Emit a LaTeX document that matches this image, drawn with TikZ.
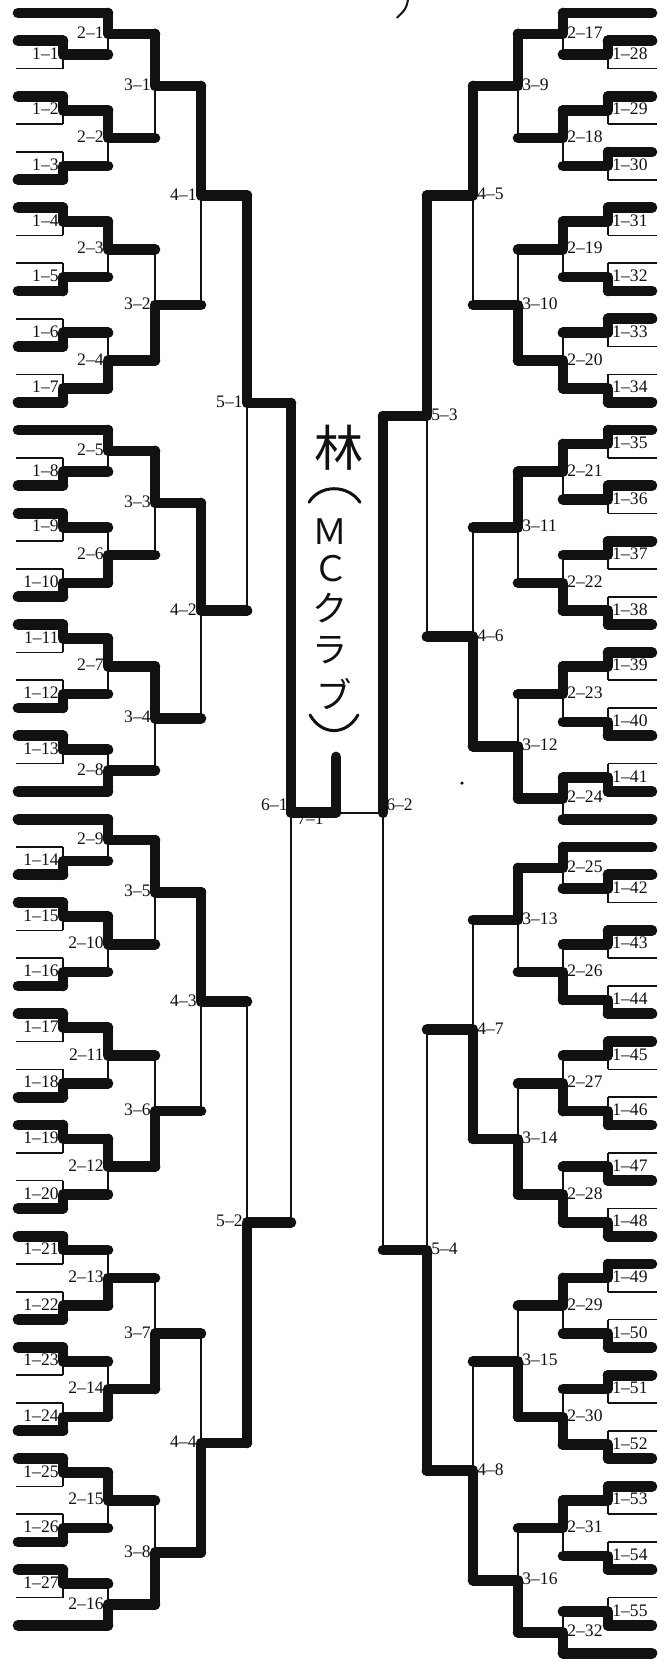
\documentclass[tikz,border=0pt]{standalone}
\usepackage{fontspec}
\setmainfont{Liberation Serif}
\newfontfamily\jpfont{Noto Sans CJK JP}
\usetikzlibrary{positioning}
\definecolor{ink}{HTML}{111111}

\tikzset{
  thinline/.style={ink, line width=0.5mm},
  winline/.style={ink, line width=3.2mm, line cap=round, line join=round},
  penline/.style={ink, line width=0.9mm, line cap=round},
  lbl/.style={font=\fontsize{15}{15}\selectfont, text=ink, inner sep=1pt, yshift=1pt},
  namechar/.style={font=\jpfont\fontsize{30}{30}\selectfont, text=ink, inner sep=0pt}
}

% one match: vertical x, next x, top slot, bottom slot, winner slot, round, number
\newcommand{\matchL}[7]{%
  \pgfmathsetmacro{\ym}{(#3+#4)/2}
  \draw[thinline] (#1,#3) -- (#1,#4) (#1,\ym) -- (#2,\ym);
  \draw[winline] (#1,#5) -- (#1,\ym) -- (#2,\ym);
  \node[lbl, anchor=east] (m#6-#7) at (#1-3,\ym) {#6–#7};
}
\newcommand{\matchR}[7]{%
  \pgfmathsetmacro{\ym}{(#3+#4)/2}
  \draw[thinline] (#1,#3) -- (#1,#4) (#1,\ym) -- (#2,\ym);
  \draw[winline] (#1,#5) -- (#1,\ym) -- (#2,\ym);
  \node[lbl, anchor=west] (m#6-#7) at (#1+3,\ym) {#6–#7};
}
% first round: top slot, winner (0 top / 1 bottom), number
\newcommand{\firstL}[3]{%
  \draw[thinline] (16,#1) -- (63,#1) (16,#1+1) -- (63,#1+1);
  \draw[winline] (18,#1+#2) -- (63,#1+#2);
  \matchL{63}{108}{#1}{#1+1}{#1+#2}{1}{#3}
}
\newcommand{\firstR}[3]{%
  \draw[thinline] (608,#1) -- (657,#1) (608,#1+1) -- (657,#1+1);
  \draw[winline] (608,#1+#2) -- (652,#1+#2);
  \matchR{608}{563}{#1}{#1+1}{#1+#2}{1}{#3}
}
% seeded lines straight into round 2
\newcommand{\byeL}[1]{%
  \draw[thinline] (16,#1) -- (108,#1);
  \draw[winline] (18,#1) -- (108,#1);
}
\newcommand{\byeR}[1]{%
  \draw[thinline] (563,#1) -- (657,#1);
  \draw[winline] (563,#1) -- (652,#1);
}

\begin{document}
\begin{tikzpicture}[x=0.3mm, y=-8.34mm]
  \fill[white] (0,-0.4676) rectangle (669,59.353);
  \useasboundingbox (0,-0.4676) rectangle (669,59.353);

  % Left half
  \foreach \s in {0,15,28,29,58} {\byeL{\s}}
  \foreach \s/\w/\n in {1/0/1, 3/0/2, 5/1/3, 7/0/4, 9/1/5, 11/1/6, 13/1/7,
      16/1/8, 18/0/9, 20/1/10, 22/0/11, 24/1/12, 26/0/13, 30/1/14, 32/0/15,
      34/1/16, 36/0/17, 38/1/18, 40/0/19, 42/1/20, 44/0/21, 46/1/22,
      48/0/23, 50/1/24, 52/0/25, 54/1/26, 56/0/27} {\firstL{\s}{\w}{\n}}
  \foreach \ya/\yb/\yw/\n in {0/1.5/0/1, 3.5/5.5/3.5/2, 7.5/9.5/7.5/3,
      11.5/13.5/13.5/4, 15/16.5/15/5, 18.5/20.5/20.5/6, 22.5/24.5/22.5/7,
      26.5/28/28/8, 29/30.5/29/9, 32.5/34.5/32.5/10, 36.5/38.5/36.5/11,
      40.5/42.5/40.5/12, 44.5/46.5/46.5/13, 48.5/50.5/50.5/14,
      52.5/54.5/52.5/15, 56.5/58/58/16} {\matchL{108}{155}{\ya}{\yb}{\yw}{2}{\n}}
  \foreach \ya/\yb/\yw/\n in {0.75/4.5/0.75/1, 8.5/12.5/12.5/2,
      15.75/19.5/15.75/3, 23.5/27.25/23.5/4, 29.75/33.5/29.75/5,
      37.5/41.5/41.5/6, 45.5/49.5/49.5/7, 53.5/57.25/57.25/8} {\matchL{155}{201}{\ya}{\yb}{\yw}{3}{\n}}
  \foreach \ya/\yb/\yw/\n in {2.625/10.5/2.625/1, 17.625/25.375/17.625/2,
      31.625/39.5/31.625/3, 47.5/55.375/55.375/4} {\matchL{201}{247}{\ya}{\yb}{\yw}{4}{\n}}
  \foreach \ya/\yb/\yw/\n in {6.5625/21.5/6.5625/1,
      35.5625/51.4375/51.4375/2} {\matchL{247}{291}{\ya}{\yb}{\yw}{5}{\n}}

  % Right half
  \foreach \s in {0,29,30,59} {\byeR{\s}}
  \foreach \s/\w/\n in {1/0/28, 3/0/29, 5/0/30, 7/0/31, 9/1/32, 11/0/33,
      13/1/34, 15/0/35, 17/0/36, 19/0/37, 21/1/38, 23/0/39, 25/1/40,
      27/1/41, 31/0/42, 33/0/43, 35/1/44, 37/0/45, 39/1/46, 41/1/47,
      43/1/48, 45/0/49, 47/1/50, 49/0/51, 51/1/52, 53/0/53, 55/1/54,
      57/1/55} {\firstR{\s}{\w}{\n}}
  \foreach \ya/\yb/\yw/\n in {0/1.5/0/17, 3.5/5.5/3.5/18, 7.5/9.5/7.5/19,
      11.5/13.5/13.5/20, 15.5/17.5/15.5/21, 19.5/21.5/21.5/22,
      23.5/25.5/23.5/23, 27.5/29/27.5/24, 30/31.5/30/25, 33.5/35.5/35.5/26,
      37.5/39.5/39.5/27, 41.5/43.5/43.5/28, 45.5/47.5/45.5/29,
      49.5/51.5/51.5/30, 53.5/55.5/53.5/31, 57.5/59/59/32} {\matchR{563}{518}{\ya}{\yb}{\yw}{2}{\n}}
  \foreach \ya/\yb/\yw/\n in {0.75/4.5/0.75/9, 8.5/12.5/12.5/10,
      16.5/20.5/16.5/11, 24.5/28.25/28.25/12, 30.75/34.5/30.75/13,
      38.5/42.5/42.5/14, 46.5/50.5/50.5/15, 54.5/58.25/58.25/16} {\matchR{518}{473}{\ya}{\yb}{\yw}{3}{\n}}
  \foreach \ya/\yb/\yw/\n in {2.625/10.5/2.625/5, 18.5/26.375/26.375/6,
      32.625/40.5/40.5/7, 48.5/56.375/56.375/8} {\matchR{473}{427}{\ya}{\yb}{\yw}{4}{\n}}
  \foreach \ya/\yb/\yw/\n in {6.5625/22.4375/6.5625/3,
      36.5625/52.4375/52.4375/4} {\matchR{427}{383}{\ya}{\yb}{\yw}{5}{\n}}

  % Final
  \draw[thinline] (291,14.03) -- (291,43.5) (383,14.5) -- (383,44.5);
  \draw[thinline] (291,28.77) -- (383,28.77);
  \draw[winline] (291,14.03) -- (291,28.77) -- (336,28.77) -- (336,26.76);
  \draw[winline] (383,14.5) -- (383,28.77);
  \node[lbl, anchor=south east] (m6-1) at (289,28.77) {6–1};
  \node[lbl, anchor=south west] (m6-2) at (385,28.77) {6–2};
  \node[lbl, anchor=north west] (m7-1) at (296,28.77) {7–1};

  % Winner's name, written top to bottom (brackets are pen strokes)
  \node[namechar, font=\jpfont\fontsize{42}{42}\selectfont] (hayashi) at (339,15.65) {林};
  \draw[penline] (309,17.6) .. controls (320,16.95) and (348,16.95) .. (360,17.6);
  \node[namechar] (cm) at (330,18.65) {Ｍ};
  \node[namechar] (cc) at (331,20.0) {Ｃ};
  \node[namechar] (cku) at (330,21.4) {ク};
  \node[namechar] (cra) at (330,22.91) {ラ};
  \node[namechar] (cbu) at (334,24.5) {ブ};
  \draw[penline] (310,25.25) .. controls (322,26.0) and (346,26.0) .. (358,25.25);

  % stray marks of the scan
  \draw[ink, line width=0.6mm, line cap=round] (408,-0.47) .. controls (406,-0.15) .. (397,0.17);
  \fill[ink] (462,27.7) circle (1.5pt);
\end{tikzpicture}
\end{document}
